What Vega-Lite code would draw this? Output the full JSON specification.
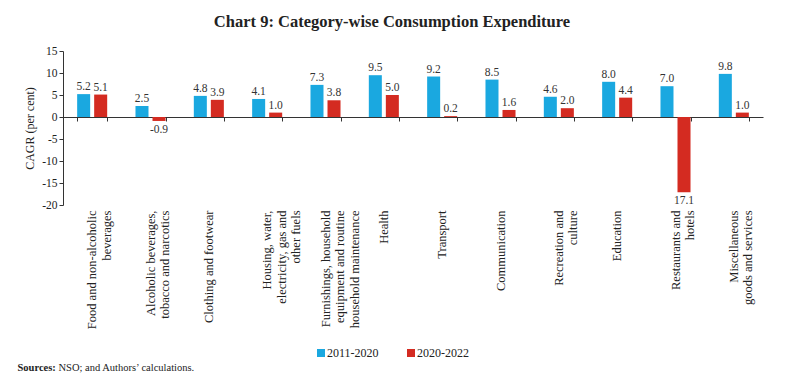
{
  "$schema": "https://vega.github.io/schema/vega-lite/v6.json",
  "width": 700,
  "height": 154,
  "autosize": {"type": "none"},
  "padding": {"left": 63, "top": 51, "right": 25, "bottom": 185},
  "config": {"font": "Liberation Serif", "view": {"stroke": null}},
  "title": {"text": "Chart 9: Category-wise Consumption Expenditure", "font": "Liberation Serif", "fontSize": 16.5, "fontWeight": "bold", "color": "#222", "anchor": "middle", "dx": -21, "offset": 15},
  "data": {"values": [
    {"category": "Food and non-alcoholic|beverages", "period": "2011-2020", "value": 5.2, "label": "5.2"},
    {"category": "Food and non-alcoholic|beverages", "period": "2020-2022", "value": 5.1, "label": "5.1"},
    {"category": "Alcoholic beverages,|tobacco and narcotics", "period": "2011-2020", "value": 2.5, "label": "2.5"},
    {"category": "Alcoholic beverages,|tobacco and narcotics", "period": "2020-2022", "value": -0.9, "label": "-0.9"},
    {"category": "Clothing and footwear", "period": "2011-2020", "value": 4.8, "label": "4.8"},
    {"category": "Clothing and footwear", "period": "2020-2022", "value": 3.9, "label": "3.9"},
    {"category": "Housing, water,|electricity, gas and|other fuels", "period": "2011-2020", "value": 4.1, "label": "4.1"},
    {"category": "Housing, water,|electricity, gas and|other fuels", "period": "2020-2022", "value": 1.0, "label": "1.0"},
    {"category": "Furnishings, household|equipment and routine|household maintenance", "period": "2011-2020", "value": 7.3, "label": "7.3"},
    {"category": "Furnishings, household|equipment and routine|household maintenance", "period": "2020-2022", "value": 3.8, "label": "3.8"},
    {"category": "Health", "period": "2011-2020", "value": 9.5, "label": "9.5"},
    {"category": "Health", "period": "2020-2022", "value": 5.0, "label": "5.0"},
    {"category": "Transport", "period": "2011-2020", "value": 9.2, "label": "9.2"},
    {"category": "Transport", "period": "2020-2022", "value": 0.2, "label": "0.2"},
    {"category": "Communication", "period": "2011-2020", "value": 8.5, "label": "8.5"},
    {"category": "Communication", "period": "2020-2022", "value": 1.6, "label": "1.6"},
    {"category": "Recreation and|culture", "period": "2011-2020", "value": 4.6, "label": "4.6"},
    {"category": "Recreation and|culture", "period": "2020-2022", "value": 2.0, "label": "2.0"},
    {"category": "Education", "period": "2011-2020", "value": 8.0, "label": "8.0"},
    {"category": "Education", "period": "2020-2022", "value": 4.4, "label": "4.4"},
    {"category": "Restaurants and|hotels", "period": "2011-2020", "value": 7.0, "label": "7.0"},
    {"category": "Restaurants and|hotels", "period": "2020-2022", "value": -17.1, "label": "17.1"},
    {"category": "Miscellaneous|goods and services", "period": "2011-2020", "value": 9.8, "label": "9.8"},
    {"category": "Miscellaneous|goods and services", "period": "2020-2022", "value": 1.0, "label": "1.0"}
  ]},
  "encoding": {
    "xOffset": {"field": "period", "type": "nominal", "scale": {"paddingInner": 0.235}},
    "y": {"field": "value", "type": "quantitative", "scale": {"domain": [-20, 15], "nice": false},
      "axis": {"values": [-20, -15, -10, -5, 0, 5, 10, 15], "labelOverlap": false, "grid": false, "domainColor": "#333", "tickColor": "#333", "tickSize": 4, "labelPadding": 2, "labelFontSize": 11.5, "labelColor": "#222",
        "labelExpr": "replace(datum.label, '−', '-')",
        "title": "CAGR (per cent)", "titleFontSize": 12, "titleFontWeight": "normal", "titleColor": "#222", "titleX": -34, "titleY": 77, "titleBaseline": "middle", "titleAlign": "center"}}
  },
  "layer": [
    {
      "mark": {"type": "bar"},
      "encoding": {
        "x": {"field": "category", "type": "nominal", "sort": null,
          "scale": {"paddingInner": 0.485, "paddingOuter": 0.2425},
          "axis": {"orient": "bottom", "domain": false, "ticks": false, "tickSize": 0, "labelAngle": -90, "labelAlign": "right", "labelBaseline": "middle", "labelPadding": 5, "labelFontSize": 12.5, "labelLineHeight": 14.5, "labelColor": "#222", "labelLimit": 300,
            "labelExpr": "split(datum.label, '|')",
            "title": "Sources:", "titleFontSize": 10.5, "titleFontWeight": "bold", "titleColor": "#222", "titleAlign": "left", "titleBaseline": "middle", "titleX": -46, "titleY": 162}},
        "color": {"field": "period", "type": "nominal",
          "scale": {"domain": ["2011-2020", "2020-2022"], "range": ["#1AA8E0", "#D42B21"]},
          "legend": {"orient": "none", "legendX": 252, "legendY": 296, "direction": "horizontal", "title": null, "symbolType": "square", "symbolSize": 64, "symbolStrokeWidth": 0, "labelFontSize": 12, "labelColor": "#222", "columnPadding": 26, "labelOffset": 0}}
      }
    },
    {
      "transform": [{"filter": "datum.value >= 0"}],
      "mark": {"type": "text", "baseline": "bottom", "dy": -2, "fontSize": 11.5, "color": "#333"},
      "encoding": {
        "x": {"field": "category", "type": "nominal", "sort": null,
          "axis": {"orient": "top", "offset": -66, "domain": true, "domainColor": "#333", "ticks": true, "tickColor": "#333", "tickBand": "extent", "tickSize": -4, "labels": false, "grid": false,
            "title": "NSO; and Authors’ calculations.", "titleFontSize": 10.5, "titleFontWeight": "normal", "titleColor": "#222", "titleAlign": "left", "titleBaseline": "middle", "titleX": -5, "titleY": 250}},
        "text": {"field": "label"}
      }
    },
    {
      "transform": [{"filter": "datum.value < 0"}],
      "mark": {"type": "text", "baseline": "top", "dy": 3, "fontSize": 11.5, "color": "#333"},
      "encoding": {
        "x": {"field": "category", "type": "nominal", "sort": null, "axis": null},
        "text": {"field": "label"}
      }
    }
  ],
  "resolve": {"axis": {"x": "independent"}}
}
